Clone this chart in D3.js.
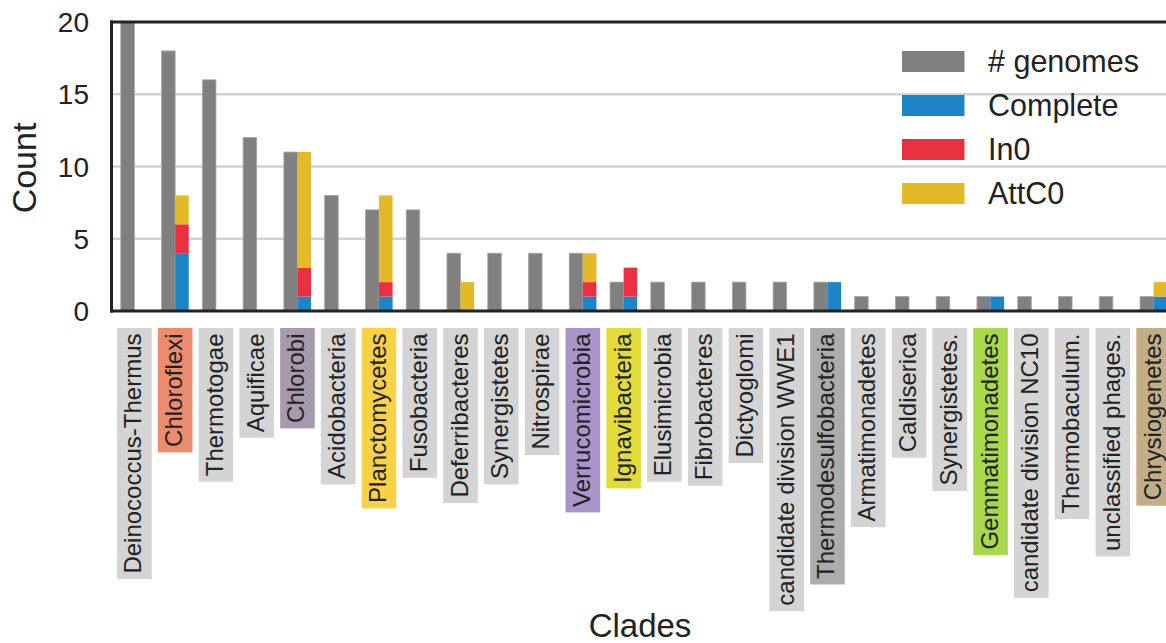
<!DOCTYPE html>
<html>
<head>
<meta charset="utf-8">
<script src="https://cdn.jsdelivr.net/npm/d3@7"></script>
<style>
  body { margin: 0; background: #fff; }
  text { font-family: "Liberation Sans", Arial, Helvetica, sans-serif; fill: #222; }
</style>
</head>
<body>
<div id="chart"></div>
<script>
// ---- data ------------------------------------------------------------------
const clades = ['Deinococcus-Thermus', 'Chloroflexi', 'Thermotogae', 'Aquificae', 'Chlorobi',
  'Acidobacteria', 'Planctomycetes', 'Fusobacteria', 'Deferribacteres', 'Synergistetes',
  'Nitrospirae', 'Verrucomicrobia', 'Ignavibacteria', 'Elusimicrobia', 'Fibrobacteres',
  'Dictyoglomi', 'candidate division WWE1', 'Thermodesulfobacteria', 'Armatimonadetes',
  'Caldiserica', 'Synergistetes.', 'Gemmatimonadetes', 'candidate division NC10',
  'Thermobaculum.', 'unclassified phages.', 'Chrysiogenetes'];

const genomes  = [20, 18, 16, 12, 11, 8, 7, 7, 4, 4, 4, 4, 2, 2, 2, 2, 2, 2, 1, 1, 1, 1, 1, 1, 1, 1];
const complete = [0, 4, 0, 0, 1, 0, 1, 0, 0, 0, 0, 1, 1, 0, 0, 0, 0, 2, 0, 0, 0, 1, 0, 0, 0, 1];
const in0      = [0, 2, 0, 0, 2, 0, 1, 0, 0, 0, 0, 1, 2, 0, 0, 0, 0, 0, 0, 0, 0, 0, 0, 0, 0, 0];
const attc0    = [0, 2, 0, 0, 8, 0, 6, 0, 2, 0, 0, 2, 0, 0, 0, 0, 0, 0, 0, 0, 0, 0, 0, 0, 0, 1];

const yTicks = [0, 5, 10, 15, 20];

// label box colours (highlighted clades)
const labelFill = {
  'Chloroflexi': '#ec8c6f',
  'Chlorobi': '#a899ae',
  'Planctomycetes': '#f8d146',
  'Verrucomicrobia': '#a995c9',
  'Ignavibacteria': '#e2dc3a',
  'Thermodesulfobacteria': '#acacac',
  'Gemmatimonadetes': '#a9d84b',
  'Chrysiogenetes': '#c4ae88'
};

const seriesKeys   = ['Complete', 'In0', 'AttC0'];
const seriesColors = { '# genomes': '#808080', 'Complete': '#1b85c8', 'In0': '#e93040', 'AttC0': '#e3b927' };

// ---- setup -----------------------------------------------------------------
const width = 1166, height = 643;

const svg = d3.select('#chart').append('svg')
  .attr('width', width)
  .attr('height', height)
  .attr('viewBox', [0, 0, width, height]);

const x = d3.scaleBand().domain(clades).range([114, 1174]);
const y = d3.scaleLinear().domain([0, 20]).range([311, 22]);
const barW = x.bandwidth() / 3;

const grid   = svg.append('g').attr('id', 'grid');
const bars   = svg.append('g').attr('id', 'bars');
const frame  = svg.append('g').attr('id', 'frame');
const labels = svg.append('g').attr('id', 'labels');
const legend = svg.append('g').attr('id', 'legend');

// grid lines
grid.selectAll('line')
  .data(yTicks.filter(d => d > 0 && d < 20))
  .join('line')
  .attr('x1', 112).attr('x2', width)
  .attr('y1', d => y(d)).attr('y2', d => y(d))
  .attr('stroke', '#d2d2d2')
  .attr('stroke-width', 2.5);

// tick labels
svg.append('g').selectAll('text')
  .data(yTicks)
  .join('text')
  .attr('x', 89)
  .attr('y', d => y(d))
  .attr('dy', '0.36em')
  .attr('text-anchor', 'end')
  .attr('font-size', 28)
  .text(d => d);

// ---- bars ------------------------------------------------------------------
const center = d => x(d) + x.bandwidth() / 2;

bars.selectAll('rect.genomes')
  .data(clades)
  .join('rect')
  .attr('class', 'genomes')
  .attr('x', d => center(d) - barW)
  .attr('width', barW)
  .attr('y', (d, i) => y(genomes[i]))
  .attr('height', (d, i) => y(0) - y(genomes[i]))
  .attr('fill', seriesColors['# genomes'])
  .attr('stroke', '#a8a8a8')
  .attr('stroke-width', 0.8);

const table = clades.map((c, i) => ({ clade: c, Complete: complete[i], In0: in0[i], AttC0: attc0[i] }));
const stacked = d3.stack().keys(seriesKeys)(table);

bars.selectAll('g.series')
  .data(stacked)
  .join('g')
  .attr('class', 'series')
  .attr('fill', s => seriesColors[s.key])
  .selectAll('rect')
  .data(s => s.filter(d => d[1] > d[0]))
  .join('rect')
  .attr('x', d => center(d.data.clade))
  .attr('width', barW)
  .attr('y', d => y(d[1]))
  .attr('height', d => y(d[0]) - y(d[1]));

// ---- frame -----------------------------------------------------------------
frame.append('line').attr('x1', 110).attr('x2', width).attr('y1', 22).attr('y2', 22);
frame.append('line').attr('x1', 110).attr('x2', width).attr('y1', 311).attr('y2', 311);
frame.append('line').attr('x1', 111.5).attr('x2', 111.5).attr('y1', 20.5).attr('y2', 312.5);
frame.selectAll('line').attr('stroke', '#222').attr('stroke-width', 3);

// ---- clade labels ----------------------------------------------------------
const boxTop = 328, boxW = 34.6, pad = 5.5;

const lab = labels.selectAll('g')
  .data(clades)
  .join('g')
  .attr('transform', d => `translate(${center(d)},${boxTop})`);

lab.append('rect')
  .attr('x', -boxW / 2)
  .attr('y', 0)
  .attr('width', boxW)
  .attr('fill', d => labelFill[d] || '#d4d4d4');

lab.append('text')
  .attr('transform', 'rotate(-90)')
  .attr('x', -pad)
  .attr('y', 0)
  .attr('dy', '0.29em')
  .attr('text-anchor', 'end')
  .attr('font-size', 24)
  .text(d => d);

lab.each(function () {
  const g = d3.select(this);
  const len = g.select('text').node().getComputedTextLength();
  g.select('rect').attr('height', len + pad * 2);
});

// ---- axis titles -----------------------------------------------------------
svg.append('text')
  .attr('x', 640)
  .attr('y', 637)
  .attr('text-anchor', 'middle')
  .attr('font-size', 33)
  .text('Clades');

svg.append('text')
  .attr('transform', 'translate(36,168) rotate(-90)')
  .attr('text-anchor', 'middle')
  .attr('font-size', 34)
  .text('Count');

// ---- legend ----------------------------------------------------------------
const legendKeys = ['# genomes', 'Complete', 'In0', 'AttC0'];

const item = legend.selectAll('g')
  .data(legendKeys)
  .join('g')
  .attr('transform', (d, i) => `translate(902,${51 + i * 44})`);

item.append('rect')
  .attr('width', 62.5)
  .attr('height', 21)
  .attr('fill', d => seriesColors[d]);

item.append('text')
  .attr('x', 86)
  .attr('y', 10.5)
  .attr('dy', '0.36em')
  .attr('font-size', 30.5)
  .text(d => d);
</script>
</body>
</html>
